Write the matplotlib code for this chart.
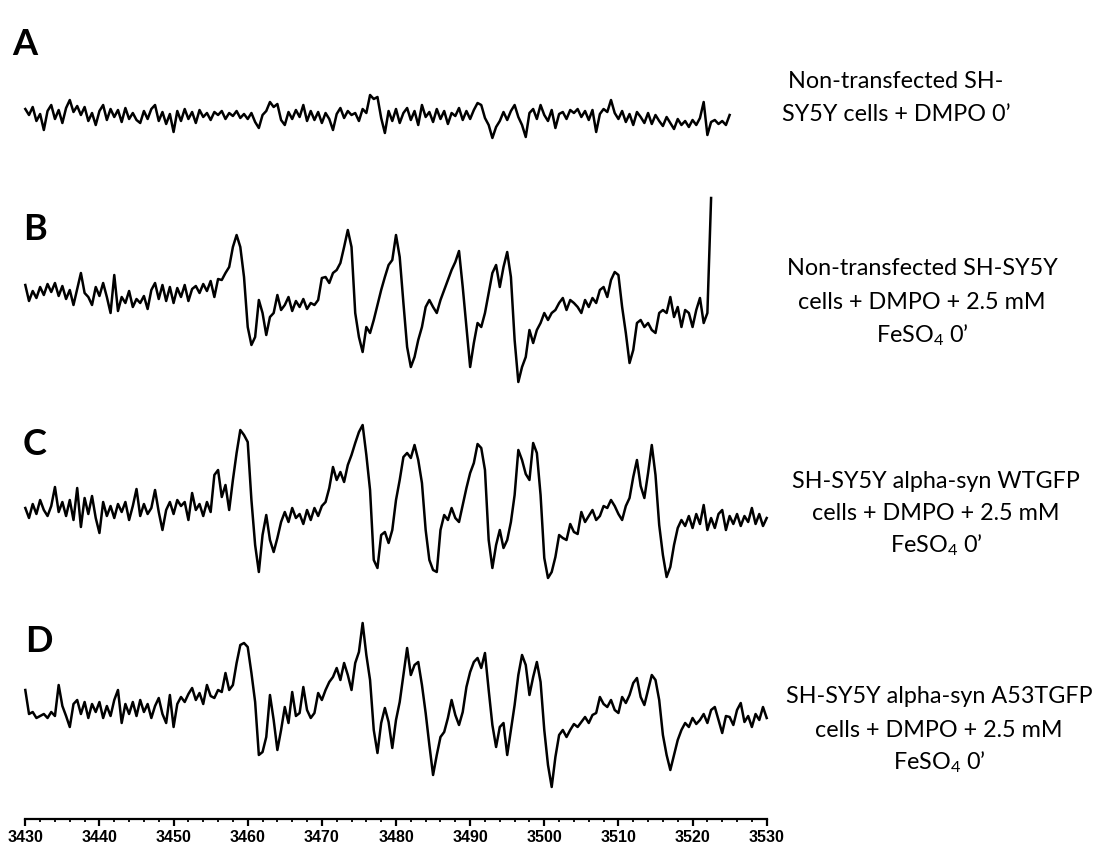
import numpy as np
import matplotlib
matplotlib.use("Agg")
import matplotlib.pyplot as plt

plt.rcParams["mathtext.fontset"] = "custom"
plt.rcParams["mathtext.rm"] = "Lato"

W, H = 1093, 844
FIELD0, STEP = 3430.0, 0.5   # spectra sampled every 0.5 G from 3430 G

# EPR first-derivative intensities (arb. units)
spec_a = [8, 2, 10, -4, 3, -13, 6, 12, -2, 7,
          -6, 9, 17, 5, 11, 2, 10, -4, 4, -8,
          6, 12, -3, 8, 0, 7, -5, 9, -2, 4,
          -3, -6, 6, -2, 8, 12, -4, 5, -7, 3,
          -15, 6, -4, 8, -2, 5, -6, 7, 0, 4,
          -3, 5, 2, 6, -2, 4, 1, 6, -1, 3,
          -2, 4, -5, -11, 2, 6, 15, 10, 13, -3,
          -8, 5, -2, 7, 0, 12, -4, 6, -3, 5,
          -6, 4, -2, -13, 3, 9, -1, 6, 2, 4,
          -4, 8, 4, 22, 18, 20, -1, -16, 6, -4,
          8, -6, 4, 9, -3, 6, -8, 12, 0, 5,
          -5, 8, -2, 6, -7, 4, 1, 9, -3, 6,
          -2, 7, 14, 12, -1, -8, -21, -10, -4, 5,
          -3, 6, 12, 0, -8, -20, 4, 8, -2, 12,
          2, -4, 7, -11, 3, 5, -2, 7, 4, 8,
          0, 6, -3, 7, -15, 3, 8, 5, 17, 4,
          -2, 6, -5, 3, -8, 5, 0, -6, 4, -7,
          2, -4, -9, 0, -6, -12, -2, -8, -4, -10,
          -3, -8, -1, 15, -18, -5, -3, -7, -4, -8,
          2]

spec_b = [8, -8, 2, -5, 6, -2, 9, 1, 10, -3,
          7, -6, 3, -12, 4, 20, 0, -4, -12, 6,
          -3, 10, -4, -20, 18, -18, -4, -10, 2, -14,
          -6, -10, -3, -16, 3, 10, -6, 8, -8, 6,
          -10, 5, -4, 8, -8, 4, 7, 0, 9, 2,
          12, -4, 14, 13, 20, 26, 46, 58, 46, 16,
          -34, -52, -44, -7, -20, -42, -24, -20, -2, -17,
          -12, -4, -18, -8, -14, -6, -16, -10, -12, -7,
          15, 16, 10, 20, 23, 30, 46, 63, 46, -20,
          -44, -59, -34, -40, -27, -12, 3, 16, 28, 33,
          58, 36, -10, -54, -74, -64, -47, -34, -14, -7,
          -14, -20, -7, 3, 13, 23, 31, 42, 6, -34,
          -74, -50, -30, -34, -20, 0, 20, 28, 6, 26,
          41, 16, -47, -89, -74, -64, -37, -50, -37, -30,
          -20, -27, -20, -17, -10, -5, -17, -7, -10, -14,
          -20, -7, -14, -5, -10, 3, 6, -4, 13, 21,
          18, -14, -40, -70, -57, -30, -27, -34, -30, -37,
          -40, -20, -17, -20, -4, -24, -14, -34, -17, -20,
          -34, -17, -5, -30, -20, 95]

spec_c = [2, -8, 6, -4, 10, 0, -6, 4, 23, -2,
          8, -6, 10, -10, 22, -17, 12, -4, 14, -8,
          -23, 8, -6, 4, -8, 6, -2, 8, -10, 4,
          21, -6, 6, -4, 2, 20, -2, -20, 0, 8,
          -4, 10, 4, 8, -10, 17, 0, 6, -6, 8,
          -2, 35, 40, 13, 25, 0, 30, 57, 80, 75,
          68, 10, -35, -62, -25, -5, -30, -42, -28, -12,
          -2, -12, 2, -8, -4, -14, 0, -10, 2, -6,
          4, 8, 22, 43, 30, 38, 28, 45, 55, 67,
          78, 85, 55, 20, -50, -58, -25, -22, -33, -20,
          10, 30, 53, 57, 52, 65, 50, 27, -20, -50,
          -60, -62, -20, -5, -10, 2, -8, -12, 5, 22,
          37, 47, 66, 62, 40, -30, -58, -35, -20, -38,
          -30, -12, 15, 60, 50, 36, 30, 67, 57, 15,
          -48, -68, -62, -47, -25, -28, -30, -14, -22, -24,
          -2, -12, -6, 0, -10, -6, 4, 2, 10, 4,
          -4, -10, 4, 12, 33, 50, 24, 12, 37, 65,
          35, -15, -45, -67, -57, -35, -18, -10, -16, -6,
          -18, -4, -14, 5, -20, -8, -18, -4, 0, -20,
          -6, -14, -4, -16, -6, -12, 2, -14, -4, -16,
          -8]

spec_d = [20, -4, -2, -8, -6, -4, -8, -2, -6, 25,
          4, -6, -17, 6, 10, -4, 8, -8, 6, -2,
          8, -8, 4, -6, 10, 20, -13, 6, -4, 8,
          -6, 10, -2, 6, -8, 4, 12, -4, -13, 15,
          -17, 6, 13, 8, 16, 22, 10, 17, 6, 25,
          14, 12, 20, 18, 37, 20, 25, 47, 65, 67,
          63, 37, 8, -45, -42, -27, 15, -10, -40, -20,
          3, -13, 18, -6, -3, 23, 0, -8, -3, 17,
          10, 20, 28, 33, 42, 30, 47, 35, 20, 47,
          58, 87, 55, 30, -20, -43, -13, 2, -12, -38,
          -10, 8, 35, 62, 35, 45, 48, 25, -3, -35,
          -65, -45, -27, -22, -8, 10, -5, -15, -2, 23,
          38, 48, 52, 42, 57, 20, -15, -37, -17, -13,
          -45, -20, 5, 35, 55, 45, 15, 33, 48, 28,
          -20, -55, -77, -47, -25, -20, -27, -20, -14, -17,
          -12, -7, -13, -5, -3, 13, 6, 3, 10, 0,
          -3, 13, 7, 15, 27, 32, 13, 5, 20, 35,
          30, 10, -25, -45, -60, -45, -30, -20, -13, -17,
          -8, -14, -10, -4, -13, 0, 3, -10, -23, -6,
          -7, -15, 0, 7, -12, -6, -17, -4, -10, 3,
          -8]

spectra = [spec_a, spec_b, spec_c, spec_d]
letters = ["A", "B", "C", "D"]
captions = [
    ["Non-transfected SH-", "SY5Y cells + DMPO 0\u2019"],
    ["Non-transfected SH-SY5Y", "cells + DMPO + 2.5 mM", "FeSO$_4$ 0\u2019"],
    ["SH-SY5Y alpha-syn WTGFP", "cells + DMPO + 2.5 mM", "FeSO$_4$ 0\u2019"],
    ["SH-SY5Y alpha-syn A53TGFP", "cells + DMPO + 2.5 mM", "FeSO$_4$ 0\u2019"],
]
field_ticks = list(range(3430, 3531, 10))

# layout, in pixels of the original picture
axis_y = 819
baseline_px = [117, 293, 510, 710]
letter_xy = [(12, 55), (23, 240), (23, 455), (25, 652)]
caption_x = [896, 922, 936, 939]
caption_y = [[88, 121], [275, 309, 342], [488, 520, 552], [703, 737, 769]]

fig = plt.figure(figsize=(W / 100, H / 100), dpi=100)
x0, x1 = 25.3, 766.7
ax = fig.add_axes([x0 / W, (H - axis_y) / H, (x1 - x0) / W, axis_y / H])
ax.set_xlim(3430, 3530)
ax.set_ylim(0, axis_y)
for s in ["top", "left", "right"]:
    ax.spines[s].set_visible(False)
ax.spines["bottom"].set_linewidth(1.6)
ax.set_yticks([])
ax.set_xticks(field_ticks)
ax.set_xticks(np.arange(3430, 3531, 2), minor=True)
ax.tick_params(axis="x", which="major", length=5, width=1.6, pad=3)
ax.tick_params(axis="x", which="minor", length=2.5, width=1.3)
ax.set_xticklabels([str(t) for t in field_ticks], fontsize=11.5,
                   fontfamily="Liberation Sans", fontweight="bold")

for spec, base in zip(spectra, baseline_px):
    y = np.array(spec, dtype=float)
    x = FIELD0 + STEP * np.arange(len(y))
    ax.plot(x, (axis_y - base) + y, color="black", lw=1.8,
            solid_joinstyle="round", clip_on=False)

for let, (lx, ly) in zip(letters, letter_xy):
    fig.text(lx / W, 1 - ly / H, let, ha="left", va="baseline",
             fontsize=26, fontweight="bold", family="Lato")

for lines, cx, ys in zip(captions, caption_x, caption_y):
    for line, ly in zip(lines, ys):
        fig.text(cx / W, 1 - ly / H, line, ha="center", va="baseline",
                 fontsize=16.8, family="Lato")

fig.savefig("out.png", dpi=100)
